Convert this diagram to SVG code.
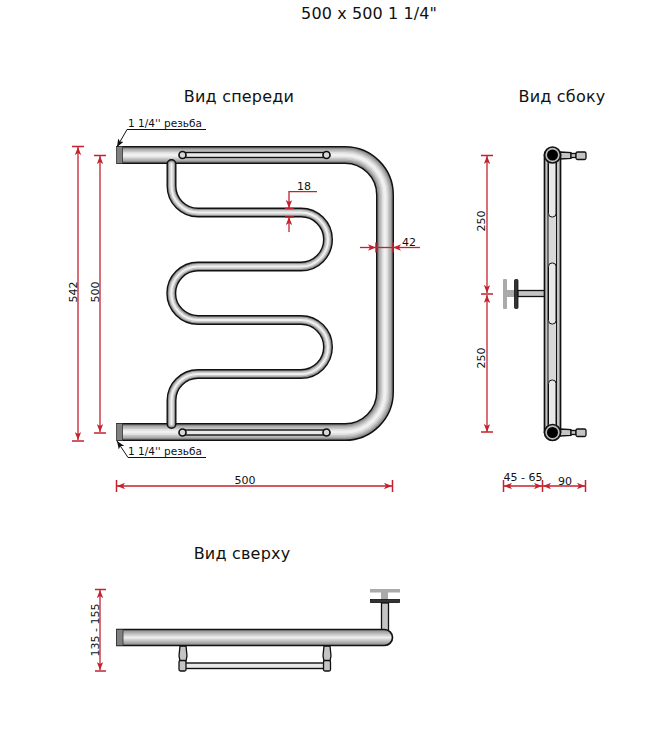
<svg xmlns="http://www.w3.org/2000/svg" width="669" height="737" viewBox="0 0 669 737">
<style>
text{font-family:"DejaVu Sans",Verdana,sans-serif;fill:#111}
.t{font-size:16px;text-anchor:middle;letter-spacing:.2px}
.d{font-size:11px;text-anchor:middle}
.l{font-size:10.5px}
.dim{stroke:#c4222f;stroke-width:1.3;fill:none}
.ar{marker-start:url(#a);marker-end:url(#a)}
.ae{marker-end:url(#a)}
.tick{stroke:#c4222f;stroke-width:1.5;fill:none}
.lead{stroke:#111;stroke-width:1;fill:none;marker-end:url(#b)}
.p{fill:none;stroke-linejoin:round}
.k{stroke:#111}.g0{stroke:#8f8f8f}.g1{stroke:#adadad}.g2{stroke:#c8c8c8}.g3{stroke:#dedede}.g4{stroke:#f0f0f0}
.rail{fill:#e8e8e8;stroke:#111;stroke-width:1.4}
.end{fill:#d8d8d8;stroke:#111;stroke-width:1.7}
.thr{fill:#808080;stroke:#333;stroke-width:.8}
.part{fill:#c4c4c4;stroke:#111;stroke-width:1.3}
.plate{fill:#333;stroke:#111;stroke-width:.8}
.pg{fill:#aaa}
</style>
<defs>
<marker id="a" viewBox="0 0 10 8" refX="10" refY="4" markerWidth="8" markerHeight="6.4" markerUnits="userSpaceOnUse" orient="auto-start-reverse"><path d="M0 0L10 4L0 8L2.5 4Z" fill="#c4222f"/></marker>
<marker id="b" viewBox="0 0 10 8" refX="10" refY="4" markerWidth="8" markerHeight="6.4" markerUnits="userSpaceOnUse" orient="auto"><path d="M0 0L10 4L0 8L2.5 4Z" fill="#111"/></marker>
<linearGradient id="tg" x1="0" y1="0" x2="0" y2="1"><stop offset="0" stop-color="#858585"/><stop offset=".5" stop-color="#efefef"/><stop offset="1" stop-color="#858585"/></linearGradient>
<path id="mp" d="M117 155H345A40 40 0 0 1 385 195V392A40 40 0 0 1 345 432H117"/>
<path id="sp" d="M171.500 164V186A26.500 26.500 0 0 0 198 212.500H301A27 27 0 0 1 301 266.500H198A26.750 26.750 0 0 0 198 320H301A27 27 0 0 1 301 374H198A26.500 26.500 0 0 0 171.500 400.500V424"/>
</defs>
<rect width="669" height="737" fill="#fff"/>

<g id="titles">
<text class="t" x="369" y="19" style="letter-spacing:.1px">500 x 500 1 1/4"</text>
<text class="t" x="239" y="102">Вид спереди</text>
<text class="t" x="562" y="102">Вид сбоку</text>
<text class="t" x="242" y="559">Вид сверху</text>
</g>

<g id="front-view">
<g id="main-pipe">
<use href="#mp" class="p k" stroke-width="18"/>
<use href="#mp" class="p g0" stroke-width="15"/>
<use href="#mp" class="p g1" stroke-width="12"/>
<use href="#mp" class="p g2" stroke-width="9"/>
<use href="#mp" class="p g3" stroke-width="6"/>
<use href="#mp" class="p g4" stroke-width="3"/>
<rect class="thr" x="116.500" y="146.500" width="6" height="17"/>
<rect class="thr" x="116.500" y="423.500" width="6" height="17"/>
</g>
<g id="serpentine">
<use href="#sp" class="p k" stroke-width="10" stroke-linecap="round"/>
<use href="#sp" class="p g0" stroke-width="7.200" stroke-linecap="round"/>
<use href="#sp" class="p g2" stroke-width="5" stroke-linecap="round"/>
<use href="#sp" class="p g4" stroke-width="2" stroke-linecap="round"/>
</g>
<g id="rail-top">
<rect class="rail" x="183" y="152.500" width="144" height="5"/>
<circle class="end" cx="182.500" cy="155" r="3.500"/>
<circle class="end" cx="326.500" cy="155" r="3.500"/>
</g>
<g id="rail-bottom">
<rect class="rail" x="183" y="430" width="144" height="5"/>
<circle class="end" cx="182.500" cy="432.500" r="3.500"/>
<circle class="end" cx="326.500" cy="432.500" r="3.500"/>
</g>
</g>

<g id="side-view">
<g id="side-connector-top">
<path class="part" d="M560 152L571 152.500V158.500L560 159Z"/>
<rect class="part" x="571" y="153.500" width="5" height="4"/>
<rect class="part" x="576" y="152" width="10" height="7.500" rx="1.500"/>
</g>
<g id="side-connector-bottom">
<path class="part" d="M560 429L571 429.500V435.500L560 436Z"/>
<rect class="part" x="571" y="430.500" width="5" height="4"/>
<rect class="part" x="576" y="429" width="10" height="7.500" rx="1.500"/>
</g>
<g id="side-bracket">
<rect class="pg" x="503" y="279" width="4" height="30" rx="1"/>
<rect class="pg" x="507" y="290" width="8" height="7"/>
<rect class="plate" x="514.500" y="279.500" width="3.500" height="29" rx="1"/>
<rect class="part" x="518" y="290.500" width="27" height="6"/>
</g>
<g id="side-pipe">
<rect x="544.500" y="155" width="16" height="277" fill="#c4c4c4" stroke="#111" stroke-width="1.700"/>
<rect x="548" y="155" width="8.500" height="277" fill="#d8d8d8" stroke="#111" stroke-width="1"/>
<rect x="548.500" y="160" width="7.500" height="57" rx="3.500" fill="#e8e8e8" stroke="#111" stroke-width="1"/>
<rect x="548.500" y="263" width="7.500" height="61" rx="3.500" fill="#e8e8e8" stroke="#111" stroke-width="1"/>
<rect x="548.500" y="380" width="7.500" height="48" rx="3.500" fill="#e8e8e8" stroke="#111" stroke-width="1"/>
</g>
<g id="side-end-top"><circle cx="552.500" cy="155" r="8" fill="#bbb" stroke="#111" stroke-width="1.700"/><circle cx="552.500" cy="155" r="5.500" fill="#000"/></g>
<g id="side-end-bottom"><circle cx="552.500" cy="432.500" r="8" fill="#bbb" stroke="#111" stroke-width="1.700"/><circle cx="552.500" cy="432.500" r="5.500" fill="#000"/></g>
</g>

<g id="top-view">
<g id="top-bracket">
<rect class="pg" x="370" y="589" width="30" height="3.500"/>
<rect class="pg" x="381" y="592" width="7" height="8"/>
<rect class="plate" x="370.500" y="599.500" width="29" height="3"/>
<rect class="part" x="381.500" y="603" width="7" height="28"/>
</g>
<g id="top-rail">
<path class="part" d="M180 646H186L187 656L186 661H180L179 656Z"/>
<path class="part" d="M324 646H330L331 656L330 661H324L323 656Z"/>
<rect class="rail" x="184" y="663" width="142" height="5.500"/>
<rect class="part" x="179" y="660.500" width="7" height="10.500" rx="1.500"/>
<rect class="part" x="323.500" y="660.500" width="7" height="10.500" rx="1.500"/>
</g>
<g id="top-pipe">
<path d="M117 629.500H384.500A8 8 0 0 1 384.500 645.500H117Z" fill="url(#tg)" stroke="#111" stroke-width="1.700"/>
<rect class="thr" x="116.500" y="629.500" width="6.500" height="16"/>
</g>
</g>

<g id="connectors">
<path class="lead" d="M206 129.500H127L117 147"/>
<path class="lead" d="M206 457.500H128L117 441"/>
<path class="dim ar" d="M78 147V440"/>
<path class="tick" d="M72 146.500H84M72 441H84"/>
<path class="dim ar" d="M100 156V432"/>
<path class="tick" d="M94 155.500H106M94 433H106"/>
<path class="dim ar" d="M117 486H392"/>
<path class="tick" d="M116.500 480V492M392.500 480V492"/>
<path class="dim ae" d="M317 191.700H289V208"/>
<path class="dim ae" d="M289 232V217"/>
<path class="tick" d="M285 208.500H294M285 217H294"/>
<path class="dim ae" d="M360 247.500H376"/>
<path class="dim ae" d="M420 247.500H393"/>
<path class="dim" d="M376 247.500H393"/>
<path class="tick" d="M376 242.500V252.500M393 242.500V252.500"/>
<path class="dim ar" d="M487 156V293"/>
<path class="dim ar" d="M487 295V432"/>
<path class="tick" d="M481 155.500H493M481 294H493M481 432H493"/>
<path class="dim ar" d="M504 486H542"/>
<path class="dim ar" d="M543 486H585"/>
<path class="tick" d="M503.500 480V492M542.500 480V492M585.500 480V492"/>
<path class="dim ar" d="M100 590V670"/>
<path class="tick" d="M95 589.500H106M95 671H106"/>
</g>

<g id="labels">
<text class="l" x="128" y="127">1 1/4'' резьба</text>
<text class="l" x="128" y="455">1 1/4'' резьба</text>
<text class="d" transform="translate(77 292) rotate(-90)">542</text>
<text class="d" transform="translate(99 292) rotate(-90)">500</text>
<text class="d" x="245" y="484">500</text>
<text class="d" x="304" y="190">18</text>
<text class="d" x="409" y="246">42</text>
<text class="d" transform="translate(485 221) rotate(-90)">250</text>
<text class="d" transform="translate(485 358) rotate(-90)">250</text>
<text class="d" x="523" y="481">45 - 65</text>
<text class="d" x="565" y="485">90</text>
<text class="d" transform="translate(99 630) rotate(-90)">135 - 155</text>
</g>
</svg>
